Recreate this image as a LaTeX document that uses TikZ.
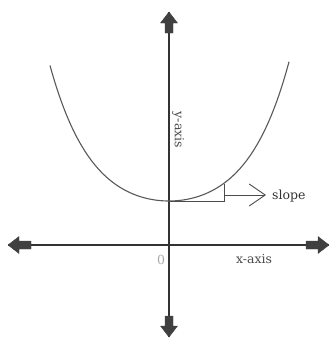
\documentclass[tikz,border=0pt]{standalone}
\usepackage{fontspec}
\setmainfont{DejaVu Serif}
\usetikzlibrary{arrows.meta}
\begin{document}
\begin{tikzpicture}[x=1pt,y=-1pt,
  axisline/.style={draw=black!80,line width=1.2pt},
  fatarrow/.style={fill=black!75,draw=black!75,line width=0.4pt,line join=round},
  curveline/.style={draw=black!65,line width=1.1pt},
  thinline/.style={draw=black!70,line width=0.9pt},
  lbl/.style={text=black!70,inner sep=0pt,font=\fontsize{12.5}{14}\selectfont}]
\useasboundingbox (0,0) rectangle (331,338);
\fill[white] (0,0) rectangle (331,338);
\coordinate (O) at (169,245);
\coordinate (T) at (169,12);
\coordinate (B) at (169,337);
\coordinate (L) at (8,245);
\coordinate (R) at (329,245);
\coordinate (V) at (169,201.5);
\coordinate (C) at (224,201.5);
\coordinate (D) at (224,183.5);
\coordinate (S) at (224,195);
\coordinate (E) at (266,195);
% axes
\draw[axisline] (L) -- (R);
\draw[axisline] (T) -- (B);
% fat arrow heads
\path[fatarrow] (T) -- ++(-8.5,11) -- ++(4.5,0) -- ++(0,10) -- ++(8,0) -- ++(0,-10) -- ++(4.5,0) -- cycle;
\path[fatarrow] (B) -- ++(-8.5,-11) -- ++(4.5,0) -- ++(0,-10) -- ++(8,0) -- ++(0,10) -- ++(4.5,0) -- cycle;
\path[fatarrow] (L) -- ++(11,-8.5) -- ++(0,4.5) -- ++(12,0) -- ++(0,8) -- ++(-12,0) -- ++(0,4.5) -- cycle;
\path[fatarrow] (R) -- ++(-11,-8.5) -- ++(0,4.5) -- ++(-12,0) -- ++(0,8) -- ++(12,0) -- ++(0,4.5) -- cycle;
% curve
\draw[curveline] plot[domain=-119:120,samples=120,smooth] ({169+\x},{201-18*(cosh(\x/42)-1)});
% slope triangle
\draw[thinline] (V) -- (C) -- (D);
\draw[thinline,-{Straight Barb[length=16pt,width=22pt,line width=0.9pt]}] (S) -- (E);
% labels
\node[lbl,anchor=west,text=black!80] (slope) at (272,196) {slope};
\node[lbl] (xlab) at (254,259) {x-axis};
\node[lbl,rotate=-90] (ylab) at (178,130) {y-axis};
\node[lbl,text=black!35] (zero) at (161,260) {0};
\end{tikzpicture}
\end{document}
